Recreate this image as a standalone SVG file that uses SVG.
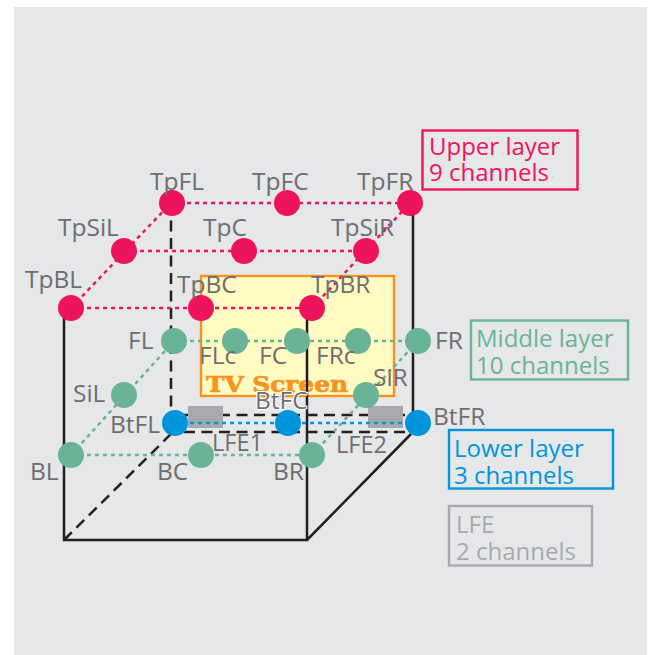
<svg xmlns="http://www.w3.org/2000/svg" width="648" height="655" viewBox="0 0 648 655">
<style>
text{font-family:"Open Sans","Noto Sans","Liberation Sans",sans-serif;font-size:24px}
.l{fill:#6d6e71;font-size:24.500px}
.s{font-size:23.500px}
.e{fill:none;stroke:#231f20;stroke-width:2.5}
.d{stroke-dasharray:11 6.500}
.u{fill:#ee145b}.m{fill:#69b496}.b{fill:#0095da}
.pu{stroke:#ee145b;stroke-width:2.500;stroke-dasharray:4 4;fill:none}
.pm{stroke:#69b496;stroke-width:2.500;stroke-dasharray:4 4;fill:none}
.pb{stroke:#0095da;stroke-width:2.500;stroke-dasharray:4 4;fill:none}
.box{fill:none;stroke-width:2.400}
.lfe{fill:#a7a9ac}
.tv{font-family:"DejaVu Serif",serif;font-size:22px;font-weight:bold;fill:#f7941d;stroke:#f7941d;stroke-width:0.700}
</style>
<rect x="14" y="7" width="633" height="648" fill="#e6e7e8"/>
<g id="screen"><rect x="201" y="276" width="193" height="120" fill="#fff9c2" stroke="#f7941d" stroke-width="2.400"/><text class="tv" x="206" y="392" textLength="142" lengthAdjust="spacingAndGlyphs">TV Screen</text></g>
<g id="connectors">
<path class="e" d="M64 308V540H307V308M307 540L411 434M413 203V416"/>
<path class="e d" d="M171 203V434M64 540L172 433M184 415H413M184 432H411"/>
<path class="pu" d="M171 203H410M124 251H366M71 308H312M71 308L171 203M312 308L410 203"/>
<path class="pm" d="M174 341H418M71 455H312M71 455L174 341M312 455L418 341"/>
<g id="lfe1"><rect class="lfe" x="188" y="406" width="35" height="22"/></g>
<g id="lfe2"><rect class="lfe" x="368" y="406" width="35" height="22"/></g>
<path class="pb" d="M174 423H418"/>
</g>
<g id="TpFL"><circle class="u" cx="172" cy="203" r="13"/><text class="l" x="150" y="190">TpFL</text></g>
<g id="TpFC"><circle class="u" cx="287" cy="203" r="13"/><text class="l" x="252" y="190">TpFC</text></g>
<g id="TpFR"><circle class="u" cx="410" cy="203" r="13"/><text class="l" x="357" y="190">TpFR</text></g>
<g id="TpSiL"><circle class="u" cx="124" cy="251" r="13"/><text class="l" x="58" y="236">TpSiL</text></g>
<g id="TpC"><circle class="u" cx="244" cy="251" r="13"/><text class="l" x="203" y="236">TpC</text></g>
<g id="TpSiR"><circle class="u" cx="366" cy="251" r="13"/><text class="l" x="331" y="236">TpSiR</text></g>
<g id="TpBL"><circle class="u" cx="71" cy="308" r="13"/><text class="l" x="25" y="288">TpBL</text></g>
<g id="TpBC"><circle class="u" cx="201" cy="308" r="13"/><text class="l" x="177" y="293">TpBC</text></g>
<g id="TpBR"><circle class="u" cx="312" cy="308" r="13"/><text class="l" x="311" y="293">TpBR</text></g>
<g id="FL"><circle class="m" cx="174" cy="341" r="13"/><text class="l" x="128" y="349">FL</text></g>
<g id="FLc"><circle class="m" cx="235" cy="341" r="13"/><text class="l" x="199" y="364">FLc</text></g>
<g id="FC"><circle class="m" cx="297" cy="341" r="13"/><text class="l" x="259" y="364">FC</text></g>
<g id="FRc"><circle class="m" cx="358" cy="341" r="13"/><text class="l" x="316" y="364">FRc</text></g>
<g id="FR"><circle class="m" cx="418" cy="341" r="13"/><text class="l" x="435" y="349">FR</text></g>
<g id="SiL"><circle class="m" cx="124" cy="395" r="13"/><text class="l" x="73" y="402">SiL</text></g>
<g id="SiR"><circle class="m" cx="366" cy="395" r="13"/><text class="l" x="373" y="386">SiR</text></g>
<g id="BL"><circle class="m" cx="71" cy="455" r="13"/><text class="l" x="30" y="480">BL</text></g>
<g id="BC"><circle class="m" cx="201" cy="455" r="13"/><text class="l" x="157" y="480">BC</text></g>
<g id="BR"><circle class="m" cx="312" cy="455" r="13"/><text class="l" x="273" y="480">BR</text></g>
<g id="BtFL"><circle class="b" cx="175" cy="423" r="13"/><text class="l" x="110" y="433">BtFL</text></g>
<g id="BtFC"><circle class="b" cx="288" cy="423" r="13"/><text class="l" x="255" y="409" stroke="#fff" stroke-width="2" paint-order="stroke">BtFC</text></g>
<g id="BtFR"><circle class="b" cx="418" cy="423" r="13"/><text class="l" x="433" y="425">BtFR</text></g>
<g id="LFE1"><text class="l s" x="212" y="451">LFE1</text></g>
<g id="LFE2"><text class="l s" x="336" y="453">LFE2</text></g>
<g id="upper"><rect class="box" stroke="#ee145b" x="422.500" y="130.500" width="155" height="59"/><text fill="#ee145b"><tspan x="429" y="155">Upper layer</tspan><tspan x="429" y="181">9 channels</tspan></text></g>
<g id="middle"><rect class="box" stroke="#69b496" x="471" y="320.500" width="157" height="59"/><text fill="#69b496"><tspan x="476" y="347">Middle layer</tspan><tspan x="476" y="374">10 channels</tspan></text></g>
<g id="lower"><rect class="box" stroke="#0095da" x="449" y="430" width="164" height="58.500"/><text fill="#0095da"><tspan x="454" y="457">Lower layer</tspan><tspan x="454" y="484">3 channels</tspan></text></g>
<g id="lfe"><rect class="box" stroke="#a7a9ac" x="449" y="506" width="143" height="59.500"/><text fill="#a7a9ac"><tspan x="456" y="533">LFE</tspan><tspan x="456" y="560">2 channels</tspan></text></g>
</svg>
